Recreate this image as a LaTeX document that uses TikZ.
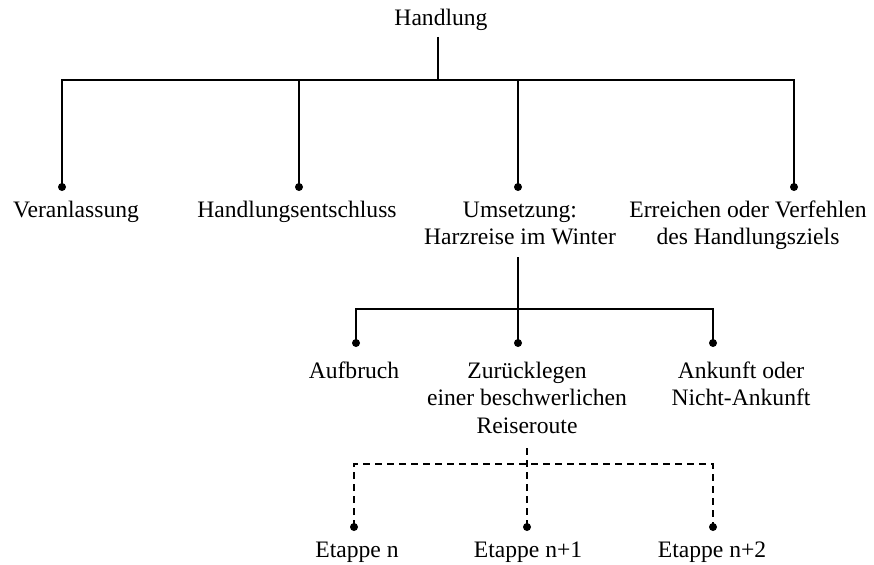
\documentclass[tikz,border=0pt]{standalone}
\usepackage{fontspec}
\setmainfont{Liberation Serif}
\begin{document}
\begin{tikzpicture}[x=1pt,y=-1pt,line width=1.1pt,
  lbl/.style={font=\fontsize{23.6}{27.5}\selectfont,align=center,inner sep=0pt,anchor=base},
  dot/.style={circle,fill=black,inner sep=0pt,minimum size=8pt},
  dashline/.style={dash pattern=on 7pt off 5pt}]
\useasboundingbox (0,0) rectangle (874,564);
% root
\node[lbl] (root) at (441,26) {Handlung};
\coordinate (rootb) at (438,37);
\coordinate (j1) at (438,80);
% level 1
\node[dot] (d11) at (62,187) {};
\node[dot] (d12) at (299,187) {};
\node[dot] (d13) at (518,187) {};
\node[dot] (d14) at (794,187) {};
\node[lbl] (a1) at (76,217) {Veranlassung};
\node[lbl] (a2) at (297,217) {Handlungsentschluss};
\node[lbl] (a3) at (520,244.5) {Umsetzung:\\Harzreise im Winter};
\node[lbl] (a4) at (748,244.5) {Erreichen oder Verfehlen\\des Handlungsziels};
\draw (rootb) -- (j1);
\draw (d11.center) |- (j1) -| (d14.center);
\draw (d12.center) -- (d12.center |- j1);
\draw (d13.center) -- (d13.center |- j1);
% level 2
\coordinate (u2) at (518,257);
\coordinate (j2) at (518,309);
\node[dot] (d21) at (356,343) {};
\node[dot] (d22) at (518,343) {};
\node[dot] (d23) at (713,343) {};
\node[lbl] (b1) at (354,378) {Aufbruch};
\node[lbl] (b2) at (527,433) {Zurücklegen\\einer beschwerlichen\\Reiseroute};
\node[lbl] (b3) at (741,405.5) {Ankunft oder\\Nicht-Ankunft};
\draw (u2) -- (d22.center);
\draw (d21.center) |- (j2) -| (d23.center);
% level 3
\coordinate (r3) at (527,448);
\coordinate (j3) at (527,464);
\node[dot] (d31) at (354,527) {};
\node[dot] (d32) at (527,527) {};
\node[dot] (d33) at (713,527) {};
\node[lbl] (c1) at (357,557) {Etappe n};
\node[lbl] (c2) at (528,557) {Etappe n+1};
\node[lbl] (c3) at (712,557) {Etappe n+2};
\draw[dashline] (r3) -- (d32.center);
\draw[dashline] (d31.center) |- (j3) -| (d33.center);
\end{tikzpicture}
\end{document}
